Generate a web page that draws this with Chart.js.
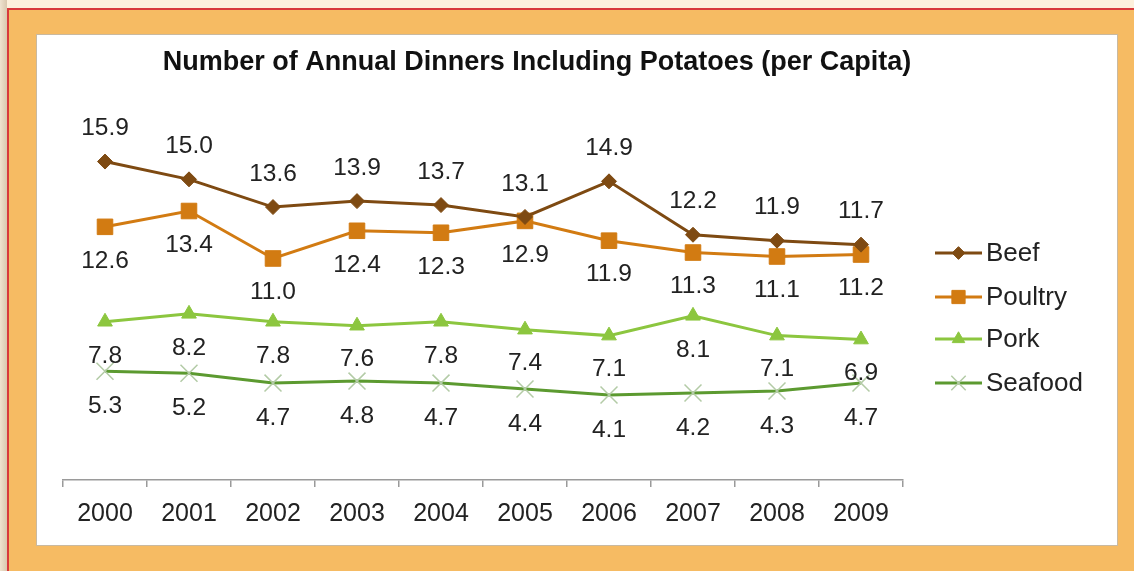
<!DOCTYPE html>
<html>
<head>
<meta charset="utf-8">
<script src="https://cdn.jsdelivr.net/npm/chart.js@4/dist/chart.umd.min.js"></script>
<style>
  html, body { margin: 0; padding: 0; }
  body { width: 1134px; height: 571px; position: relative; overflow: hidden; background: #F6BB63; font-family: "Liberation Sans", Arial, sans-serif; }
  #topband { position: absolute; left: 0; top: 0; width: 1134px; height: 8px; background: #FDF0DC; }
  #leftband { position: absolute; left: 0; top: 0; width: 7px; height: 571px; background: linear-gradient(to right, #efe2cf, #d9c7ae); }
  #redtop { position: absolute; left: 7px; top: 8px; width: 1127px; height: 2px; background: #D8393B; }
  #redleft { position: absolute; left: 7px; top: 8px; width: 2px; height: 563px; background: #D8393B; }
  #panel { position: absolute; left: 36px; top: 34px; width: 1080px; height: 510px; background: #fff; border: 1px solid #C9B9A0; }
  #c { position: absolute; left: 0; top: 0; }
</style>
</head>
<body>
<div id="topband"></div>
<div id="leftband"></div>
<div id="redtop"></div>
<div id="redleft"></div>
<div id="panel"><canvas id="c" width="1080" height="510"></canvas></div>
<script>
const chartTitle = "Number of Annual Dinners Including Potatoes (per Capita)";
const years = ["2000","2001","2002","2003","2004","2005","2006","2007","2008","2009"];
const seriesNames = ["Beef","Poultry","Pork","Seafood"];
const beef    = [15.9, 15.0, 13.6, 13.9, 13.7, 13.1, 14.9, 12.2, 11.9, 11.7];
const poultry = [12.6, 13.4, 11.0, 12.4, 12.3, 12.9, 11.9, 11.3, 11.1, 11.2];
const pork    = [7.8, 8.2, 7.8, 7.6, 7.8, 7.4, 7.1, 8.1, 7.1, 6.9];
const seafood = [5.3, 5.2, 4.7, 4.8, 4.7, 4.4, 4.1, 4.2, 4.3, 4.7];

const FONT = '"Liberation Sans", Arial, sans-serif';

const styles = [
  { line: '#7E4A12', point: '#7E4A12', style: 'rectRot', radius: 7.5, pbw: 1, labelDy: -33 },
  { line: '#D27B12', point: '#D27B12', style: 'rect', radius: 11, pbw: 1, labelDy: 34 },
  { line: '#8CC63F', point: '#8CC63F', style: 'triangle', radius: 8.5, pbw: 1, labelDy: 34 },
  { line: '#5C9A30', point: '#B3CBA6', style: 'crossRot', radius: 12, pbw: 1.5, labelDy: 35 }
];
const values = [beef, poultry, pork, seafood];

const datasets = values.map((v, i) => ({
  label: seriesNames[i],
  data: v,
  borderColor: styles[i].line,
  backgroundColor: styles[i].point,
  borderWidth: 3,
  pointStyle: styles[i].style,
  pointRadius: styles[i].radius,
  pointBorderColor: styles[i].point,
  pointBackgroundColor: styles[i].point,
  pointBorderWidth: styles[i].pbw,
  tension: 0,
  fill: false,
  labelDy: styles[i].labelDy
}));

const decorPlugin = {
  id: 'decor',
  afterDatasetsDraw(chart) {
    const ctx = chart.ctx;
    ctx.save();
    // data labels
    ctx.font = '24.5px ' + FONT;
    ctx.fillStyle = '#222';
    ctx.textAlign = 'center';
    ctx.textBaseline = 'middle';
    chart.data.datasets.forEach((ds, di) => {
      const meta = chart.getDatasetMeta(di);
      meta.data.forEach((pt, j) => {
        ctx.fillText(ds.data[j].toFixed(1), pt.x, pt.y + ds.labelDy);
      });
    });
    // title
    ctx.font = 'bold 27px ' + FONT;
    ctx.fillStyle = '#111';
    ctx.fillText(chartTitle, 500, 28);
    ctx.restore();
    // legend
    const rows = [218, 262, 304, 348];
    chart.data.datasets.forEach((ds, di) => {
      const y = rows[di];
      const x0 = 898, x1 = 945, xm = 921.5;
      ctx.save();
      ctx.strokeStyle = ds.borderColor;
      ctx.lineWidth = 3;
      ctx.beginPath(); ctx.moveTo(x0, y); ctx.lineTo(x1, y); ctx.stroke();
      ctx.fillStyle = ds.pointBackgroundColor;
      ctx.strokeStyle = ds.pointBorderColor;
      ctx.lineWidth = ds.pointBorderWidth;
      Chart.helpers.drawPoint(ctx, {
        pointStyle: ds.pointStyle,
        radius: ds.pointRadius * 0.85,
        rotation: 0,
        borderWidth: ds.pointBorderWidth
      }, xm, y);
      ctx.font = '26px ' + FONT;
      ctx.fillStyle = '#222';
      ctx.textAlign = 'left';
      ctx.textBaseline = 'middle';
      ctx.fillText(ds.label, 949, y + 1);
      ctx.restore();
    });
  }
};

new Chart(document.getElementById('c'), {
  type: 'line',
  data: { labels: years, datasets },
  options: {
    responsive: false,
    animation: false,
    devicePixelRatio: 1,
    layout: { padding: { left: 26, right: 214, top: 87, bottom: 4 } },
    plugins: { legend: { display: false }, title: { display: false }, tooltip: { enabled: false } },
    scales: {
      x: {
        offset: true,
        grid: { offset: true, drawOnChartArea: false, drawTicks: true, tickLength: 7, color: '#9A9A9A', lineWidth: 1.5 },
        border: { display: true, color: '#9A9A9A', width: 1.5 },
        ticks: { font: { family: FONT, size: 25 }, color: '#222', padding: 12, maxRotation: 0 }
      },
      y: {
        display: false,
        min: -0.2,
        max: 17.9
      }
    }
  },
  plugins: [decorPlugin]
});
</script>
</body>
</html>
